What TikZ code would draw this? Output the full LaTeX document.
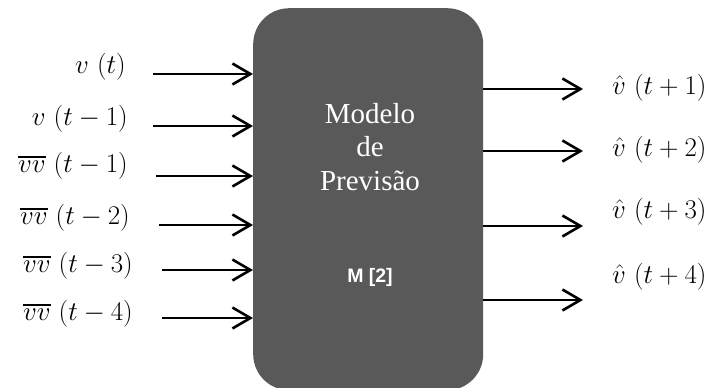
\RequirePackage{fix-cm}
\documentclass[tikz,border=0pt]{standalone}
\usepackage{fontspec}
\newfontfamily\boxserif{Liberation Serif}
\newfontfamily\boxsans{Liberation Sans}
\usetikzlibrary{arrows.meta}
\definecolor{boxgray}{HTML}{595959}
\newcommand\myovl[1]{\mathord{\vbox{\hrule height 1.8pt\kern 3pt\hbox{$#1$}}}}
\tikzset{
  inarrow/.style={line width=2.6pt,-{Straight Barb[length=18pt,width=21pt,line width=2.6pt]}},
  lbl/.style={inner sep=0pt,font=\fontsize{27}{31}\selectfont},
}
\begin{document}
\begin{tikzpicture}[x=1pt,y=-1pt]
\useasboundingbox (0,0) rectangle (713,388);
\begin{scope}
\clip (0,0) rectangle (713,388);
\node[fill=boxgray,rounded corners=36pt,minimum width=230pt,minimum height=382pt,inner sep=0pt,anchor=north west] (box) at (253,8) {};
\end{scope}
\node[text=white,align=center,font=\boxserif\fontsize{29}{33.5}\selectfont] (title) at (370,147) {Modelo\\de\\Previsão};
\node[text=white,font=\boxsans\bfseries\fontsize{19.5}{22}\selectfont] (m2) at (370,277) {M [2]};
% inputs
\coordinate (i1) at (153,74);
\coordinate (i2) at (153,126);
\coordinate (i3) at (156,176);
\coordinate (i4) at (159,225);
\coordinate (i5) at (162,270);
\coordinate (i6) at (162,318);
\foreach \i in {1,...,6} \draw[inarrow] (i\i) -- (i\i -| box.west);
\node[lbl,anchor=east] (l1) at (126,67) {$v\ (t)$};
\node[lbl,anchor=east] (l2) at (128,119) {$v\ (t-1)$};
\node[lbl,anchor=east] (l3) at (128,166) {$\myovl{vv}\ (t-1)$};
\node[lbl,anchor=east] (l4) at (130,218) {$\myovl{vv}\ (t-2)$};
\node[lbl,anchor=east] (l5) at (133,266) {$\myovl{vv}\ (t-3)$};
\node[lbl,anchor=east] (l6) at (133,314) {$\myovl{vv}\ (t-4)$};
% outputs
\coordinate (o1) at (583,89);
\coordinate (o2) at (583,151);
\coordinate (o3) at (583,226);
\coordinate (o4) at (583,300);
\foreach \i in {1,...,4} \draw[inarrow] (o\i -| box.east) -- (o\i);
\node[lbl,anchor=west] (r1) at (612,88) {$\hat{v}\ (t+1)$};
\node[lbl,anchor=west] (r2) at (612,150) {$\hat{v}\ (t+2)$};
\node[lbl,anchor=west] (r3) at (612,212) {$\hat{v}\ (t+3)$};
\node[lbl,anchor=west] (r4) at (612,277) {$\hat{v}\ (t+4)$};
\end{tikzpicture}
\end{document}
